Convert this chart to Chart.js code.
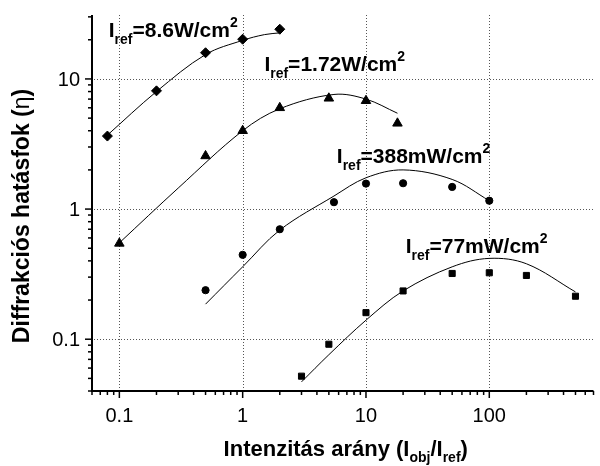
<!DOCTYPE html>
<html>
<head>
<meta charset="utf-8">
<script src="https://cdn.jsdelivr.net/npm/chart.js@4.4.0/dist/chart.umd.min.js"></script>
<style>
  html, body { margin: 0; padding: 0; background: #fff; }
</style>
</head>
<body>
<canvas id="chart" width="600" height="466"></canvas>
<script>
// measured points (x = I_obj/I_ref, y = efficiency)
const diamondX = [0.08, 0.2, 0.5, 1, 2];
const diamondY = [3.64, 8.1, 15.9, 20.2, 24.1];
const triangleX = [0.1, 0.5, 1, 2, 5, 10, 18];
const triangleY = [0.545, 2.56, 4.0, 6.0, 7.1, 6.8, 4.56];
const circleX = [0.5, 1, 2, 5.5, 10, 20, 50, 100];
const circleY = [0.238, 0.445, 0.7, 1.13, 1.57, 1.58, 1.48, 1.16];
const squareX = [3, 5, 10, 20, 50, 100, 200, 500];
const squareY = [0.052, 0.0915, 0.16, 0.235, 0.32, 0.324, 0.309, 0.214];

// fit curves
const fit1X = [0.08, 0.2, 0.5, 1, 1.5, 2];
const fit1Y = [3.7, 8.0, 15.4, 19.8, 21.9, 22.6];
const fit2X = [0.1, 0.3, 1, 2, 5.5, 10, 18];
const fit2Y = [0.55, 1.45, 4.0, 5.9, 7.6, 7.0, 5.45];
const fit3X = [0.5, 1, 2, 5.5, 10, 20, 50, 100];
const fit3Y = [0.186, 0.36, 0.69, 1.26, 1.74, 2.0, 1.69, 1.16];
const fit4X = [3, 5, 10, 20, 50, 100, 200, 500];
const fit4Y = [0.047, 0.076, 0.14, 0.235, 0.36, 0.418, 0.38, 0.231];

// series labels (I_ref values)
const refLabels = ['=8.6W/cm', '=1.72W/cm', '=388mW/cm', '=77mW/cm'];

// tick labels
const xTicks = [0.1, 1, 10, 100];
const yTicks = [0.1, 1, 10];

const FONT = '"Liberation Sans", Arial, Helvetica, sans-serif';

function pts(xs, ys) {
    return xs.map((v, i) => ({ x: v, y: ys[i] }));
}

function fitSet(xs, ys) {
    return {
        type: 'line',
        data: pts(xs, ys),
        borderColor: '#000',
        borderWidth: 1,
        pointRadius: 0,
        tension: 0.35,
        fill: false
    };
}

function markSet(xs, ys, style, r) {
    return {
        type: 'scatter',
        data: pts(xs, ys),
        pointStyle: style,
        pointRadius: r,
        backgroundColor: '#000',
        borderColor: '#000',
        borderWidth: 1
    };
}

// draws a run of text pieces: [text, size, dy, bold]
function richText(ctx, parts, x, y, align) {
    let w = 0;
    parts.forEach(p => {
        ctx.font = `${p[3] === false ? '' : 'bold '}${p[1]}px ${FONT}`;
        w += ctx.measureText(p[0]).width;
    });
    let cx = align === 'center' ? x - w / 2 : x;
    parts.forEach(p => {
        ctx.font = `${p[3] === false ? '' : 'bold '}${p[1]}px ${FONT}`;
        ctx.fillText(p[0], cx, y + p[2]);
        cx += ctx.measureText(p[0]).width;
    });
}

// where each I_ref label starts (data coords of its baseline)
const labelAnchors = [[0.082, 21], [1.5, 11.5], [5.8, 2.25], [21, 0.456]];

const frame = {
    id: 'frame',
    beforeDatasetsDraw(chart) {
        const { ctx, chartArea: a, scales: { x, y } } = chart;
        ctx.save();
        ctx.fillStyle = '#555';
        // dotted grid, one dot every 3px
        xTicks.forEach(v => {
            const px = Math.round(x.getPixelForValue(v));
            for (let py = a.top; py < a.bottom; py += 3) ctx.fillRect(px, py, 1, 1);
        });
        yTicks.forEach(v => {
            const py = Math.round(y.getPixelForValue(v));
            for (let px = a.left + 2; px < a.right; px += 3) ctx.fillRect(px, py, 1, 1);
        });
        ctx.restore();
    },
    afterDraw(chart) {
        const { ctx, chartArea: a, scales: { x, y } } = chart;
        ctx.save();
        ctx.strokeStyle = '#000';
        ctx.fillStyle = '#000';

        // axis lines
        ctx.lineWidth = 2;
        ctx.beginPath();
        ctx.moveTo(a.left, a.top);
        ctx.lineTo(a.left, a.bottom);
        ctx.lineTo(a.right, a.bottom);
        ctx.stroke();

        // tick marks, majors and minors
        ctx.lineWidth = 1.5;
        for (let k = -2; k <= 3; k++) {
            for (let m = 1; m <= 9; m++) {
                const v = m * Math.pow(10, k);
                const len = m === 1 ? 7 : 4;
                if (v >= x.min && v <= x.max) {
                    const px = x.getPixelForValue(v);
                    ctx.beginPath(); ctx.moveTo(px, a.bottom); ctx.lineTo(px, a.bottom + len); ctx.stroke();
                }
                if (v >= y.min && v <= y.max) {
                    const py = y.getPixelForValue(v);
                    ctx.beginPath(); ctx.moveTo(a.left, py); ctx.lineTo(a.left - len, py); ctx.stroke();
                }
            }
        }

        // tick labels
        ctx.font = `20px ${FONT}`;
        ctx.textAlign = 'center';
        ctx.textBaseline = 'alphabetic';
        xTicks.forEach(v => ctx.fillText(String(v), x.getPixelForValue(v), a.bottom + 31));
        ctx.textAlign = 'right';
        yTicks.forEach(v => ctx.fillText(String(v), a.left - 12, y.getPixelForValue(v) + 7));

        // axis titles
        ctx.textAlign = 'left';
        richText(ctx, [['Intenzitás arány (I', 22, 0], ['obj', 14, 6], ['/I', 22, 0], ['ref', 14, 6], [')', 22, 0]],
            (a.left + a.right) / 2 + 3, 456, 'center');
        ctx.save();
        ctx.translate(29, 216);
        ctx.rotate(-Math.PI / 2);
        richText(ctx, [['Diffrakciós hatásfok (', 23, 0], ['η', 23, 0, false], [')', 23, 0]], 0, 0, 'center');
        ctx.restore();

        // I_ref labels
        refLabels.forEach((t, i) => {
            const lx = x.getPixelForValue(labelAnchors[i][0]);
            const ly = y.getPixelForValue(labelAnchors[i][1]);
            richText(ctx, [['I', 21, 0], ['ref', 14, 7], [t, 21, 0], ['2', 14, -10]], lx, ly, 'left');
        });
        ctx.restore();
    }
};

new Chart(document.getElementById('chart'), {
    type: 'scatter',
    data: {
        datasets: [
            fitSet(fit1X, fit1Y),
            fitSet(fit2X, fit2Y),
            fitSet(fit3X, fit3Y),
            fitSet(fit4X, fit4Y),
            markSet(diamondX, diamondY, 'rectRot', 5),
            markSet(triangleX, triangleY, 'triangle', 5.5),
            markSet(circleX, circleY, 'circle', 3.6),
            markSet(squareX, squareY, 'rect', 4.3)
        ]
    },
    options: {
        responsive: false,
        animation: false,
        layout: { padding: { left: 0, right: 0, top: 15, bottom: 0 } },
        plugins: { legend: { display: false }, tooltip: { enabled: false } },
        scales: {
            x: {
                type: 'logarithmic', min: 0.06, max: 700,
                grid: { display: false, drawTicks: false },
                border: { display: false },
                ticks: { display: false },
                afterFit: s => { s.height = 75; }
            },
            y: {
                type: 'logarithmic', min: 0.04, max: 31,
                grid: { display: false, drawTicks: false },
                border: { display: false },
                ticks: { display: false },
                afterFit: s => { s.width = 92; }
            }
        }
    },
    plugins: [frame]
});
</script>
</body>
</html>
